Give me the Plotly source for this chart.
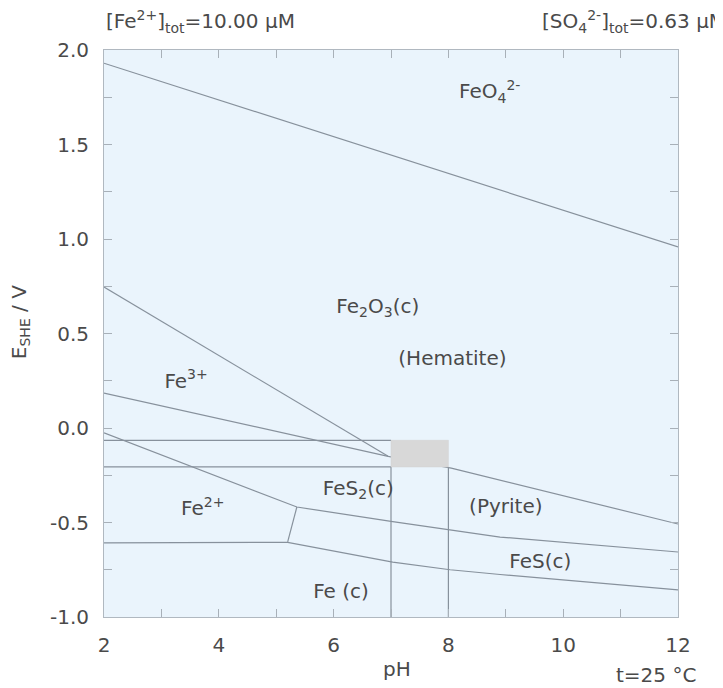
import plotly.graph_objects as go

# ---- data (pH, E / V) ----
feo4_ph = [2, 12]
feo4_E = [1.93, 0.958]

fe3_hem_ph = [2, 6.95]
fe3_hem_E = [0.746, -0.15]

fe2_hem_ph = [2, 6.95, 8.05, 12]
fe2_hem_E = [0.185, -0.15, -0.212, -0.508]

fes2_ph = [2, 5.36, 7.03, 8.03, 8.9, 12]
fes2_E = [-0.026, -0.418, -0.495, -0.54, -0.577, -0.656]

short_ph = [5.36, 5.2]
short_E = [-0.418, -0.603]

fe_ph = [2, 5.2, 7.03, 8.03, 8.9, 12]
fe_E = [-0.608, -0.605, -0.71, -0.75, -0.775, -0.857]

box_ph = [7, 8]
box_E = [-0.065, -0.206]

labels_txt = ["FeO<sub>4</sub><sup>2-</sup>", "Fe<sub>2</sub>O<sub>3</sub>(c)", "(Hematite)",
              "Fe<sup>3+</sup>", "Fe<sup>2+</sup>", "FeS<sub>2</sub>(c)", "(Pyrite)",
              "FeS(c)", "Fe (c)"]
labels_ph = [8.72, 6.77, 8.07, 3.43, 3.72, 6.43, 9.0, 9.6, 6.13]
labels_E = [1.77, 0.635, 0.36, 0.24, -0.434, -0.328, -0.423, -0.714, -0.873]

x_range = [2, 12]
y_range = [-1.0, 2.0]
x_ticks = [2, 4, 6, 8, 10, 12]
x_ticktext = ["2", "4", "6", "8", "10", "12"]
y_ticks = [-1.0, -0.5, 0.0, 0.5, 1.0, 1.5, 2.0]
y_ticktext = ["-1.0", "-0.5", "0.0", "0.5", "1.0", "1.5", "2.0"]

LINE = "#87919c"
TXT = "#4a4a4a"
FONT = "DejaVu Sans"

fig = go.Figure()

def add_line(xs, ys):
    fig.add_trace(go.Scatter(x=xs, y=ys, mode="lines", line=dict(color=LINE, width=1.2),
                             hoverinfo="skip", showlegend=False))

for xs, ys in [(feo4_ph, feo4_E), (fe3_hem_ph, fe3_hem_E), (fe2_hem_ph, fe2_hem_E),
               (fes2_ph, fes2_E), (short_ph, short_E), (fe_ph, fe_E)]:
    add_line(xs, ys)

# guide lines of the shaded region
add_line([x_range[0], box_ph[0]], [box_E[0], box_E[0]])
add_line([x_range[0], box_ph[0]], [box_E[1], box_E[1]])
add_line([box_ph[0], box_ph[0]], [box_E[1], y_range[0]])
add_line([box_ph[1], box_ph[1]], [box_E[1], y_range[0]])

# shaded box
fig.add_trace(go.Scatter(
    x=[box_ph[0], box_ph[1], box_ph[1], box_ph[0], box_ph[0]],
    y=[box_E[0], box_E[0], box_E[1], box_E[1], box_E[0]],
    mode="lines", fill="toself", fillcolor="#d8d8d8",
    line=dict(color="#d0d0d0", width=0.5), hoverinfo="skip", showlegend=False))

fig.add_trace(go.Scatter(x=labels_ph, y=labels_E, mode="text", text=labels_txt,
                         textfont=dict(family=FONT, size=20, color=TXT),
                         hoverinfo="skip", showlegend=False))

axis_common = dict(showline=True, linecolor="#b0b8c0", linewidth=1, mirror="ticks",
                   ticks="inside", ticklen=8, tickcolor="#a8b0b8", showgrid=False,
                   zeroline=False, automargin=False,
                   tickfont=dict(family=FONT, size=20, color=TXT))

fig.update_xaxes(range=x_range, tickvals=x_ticks, ticktext=x_ticktext, ticklabelstandoff=10,
                 minor=dict(ticks="inside", ticklen=8, dtick=1, tickcolor="#a8b0b8"),
                 **axis_common)
fig.update_yaxes(range=y_range, tickvals=y_ticks, ticktext=y_ticktext, ticklabelstandoff=10,
                 minor=dict(ticks="inside", ticklen=8, dtick=0.25, tickcolor="#a8b0b8"),
                 **axis_common)

ann_font = dict(family=FONT, size=20, color=TXT)
annotations = [
    dict(text="[Fe<sup>2+</sup>]<sub>tot</sub>=10.00 μM", x=0.0, y=1.0, xref="paper", yref="paper",
         xanchor="left", yanchor="bottom", yshift=12, showarrow=False, font=ann_font),
    dict(text="[SO<sub>4</sub><sup>2-</sup>]<sub>tot</sub>=0.63 μM", x=0.76, y=1.0, xref="paper",
         yref="paper", xanchor="left", yanchor="bottom", yshift=12, showarrow=False, font=ann_font),
    dict(text="pH", x=0.51, y=0, xref="paper", yref="paper", xanchor="center", yanchor="middle",
         yshift=-52, showarrow=False, font=ann_font),
    dict(text="t=25 °C", x=1.0, y=0, xref="paper", yref="paper", xanchor="left", yanchor="middle",
         xshift=-64, yshift=-58, showarrow=False, font=ann_font),
    dict(text="E<sub>SHE</sub> / V", x=0, y=0.52, xref="paper", yref="paper", xanchor="center",
         yanchor="middle", xshift=-84, textangle=-90, showarrow=False, font=ann_font),
]

# the page body adds an 8 px margin, so the figure is 8 px smaller on each axis
fig.update_layout(
    width=715, height=680,
    margin=dict(l=96, r=45, t=42, b=71),
    paper_bgcolor="white", plot_bgcolor="#eaf4fc",
    annotations=annotations,
    showlegend=False,
)

fig.write_html("out.html")
